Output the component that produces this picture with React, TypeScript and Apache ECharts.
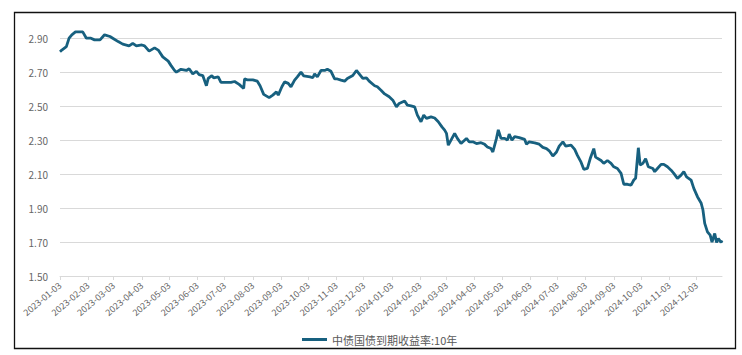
import React, { useEffect, useRef } from "react";
import * as echarts from "echarts";

const seriesName = "中债国债到期收益率:10年";

const tickLabels = [
  "2023-01-03", "2023-02-03", "2023-03-03", "2023-04-03", "2023-05-03", "2023-06-03",
  "2023-07-03", "2023-08-03", "2023-09-03", "2023-10-03", "2023-11-03", "2023-12-03",
  "2024-01-03", "2024-02-03", "2024-03-03", "2024-04-03", "2024-05-03", "2024-06-03",
  "2024-07-03", "2024-08-03", "2024-09-03", "2024-10-03", "2024-11-03", "2024-12-03",
];

const dates = [
  "2023-01-03", "2023-01-05", "2023-01-10", "2023-01-13", "2023-01-16", "2023-01-20", "2023-01-28", "2023-02-01",
  "2023-02-06", "2023-02-10", "2023-02-16", "2023-02-21", "2023-02-27", "2023-03-02", "2023-03-08", "2023-03-13",
  "2023-03-20", "2023-03-24", "2023-03-28", "2023-04-03", "2023-04-06", "2023-04-11", "2023-04-17", "2023-04-21",
  "2023-04-26", "2023-05-02", "2023-05-05", "2023-05-09", "2023-05-11", "2023-05-16", "2023-05-22", "2023-05-25",
  "2023-05-29", "2023-06-02", "2023-06-05", "2023-06-09", "2023-06-13", "2023-06-15", "2023-06-19", "2023-06-21",
  "2023-06-26", "2023-06-29", "2023-07-05", "2023-07-10", "2023-07-14", "2023-07-19", "2023-07-24", "2023-07-25",
  "2023-07-28", "2023-08-03", "2023-08-08", "2023-08-11", "2023-08-15", "2023-08-21", "2023-08-25", "2023-08-29",
  "2023-08-31", "2023-09-04", "2023-09-07", "2023-09-11", "2023-09-14", "2023-09-18", "2023-09-21", "2023-09-25",
  "2023-09-28", "2023-10-05", "2023-10-08", "2023-10-10", "2023-10-13", "2023-10-17", "2023-10-21", "2023-10-24",
  "2023-10-28", "2023-11-01", "2023-11-04", "2023-11-08", "2023-11-12", "2023-11-15", "2023-11-21", "2023-11-25",
  "2023-11-28", "2023-12-02", "2023-12-06", "2023-12-09", "2023-12-15", "2023-12-18", "2023-12-22", "2023-12-26",
  "2023-12-31",
  "2024-01-04", "2024-01-08", "2024-01-11", "2024-01-17", "2024-01-20", "2024-01-24", "2024-01-28", "2024-01-31",
  "2024-02-04", "2024-02-07", "2024-02-10", "2024-02-15", "2024-02-19", "2024-02-23", "2024-02-27", "2024-03-01",
  "2024-03-03", "2024-03-05", "2024-03-08", "2024-03-12", "2024-03-15", "2024-03-19", "2024-03-25", "2024-03-28",
  "2024-04-01", "2024-04-05", "2024-04-10", "2024-04-14", "2024-04-17", "2024-04-21", "2024-04-23", "2024-04-27",
  "2024-04-29", "2024-05-02", "2024-05-06", "2024-05-09", "2024-05-11", "2024-05-14", "2024-05-17", "2024-05-22",
  "2024-05-28", "2024-05-30", "2024-06-02", "2024-06-08", "2024-06-13", "2024-06-17", "2024-06-21", "2024-06-24",
  "2024-06-28", "2024-07-02", "2024-07-05", "2024-07-09", "2024-07-12", "2024-07-18", "2024-07-22", "2024-07-25",
  "2024-07-29", "2024-08-01", "2024-08-05", "2024-08-08", "2024-08-12", "2024-08-14", "2024-08-20", "2024-08-23",
  "2024-08-27", "2024-08-31", "2024-09-03", "2024-09-07", "2024-09-11", "2024-09-14", "2024-09-18", "2024-09-22",
  "2024-09-25", "2024-09-27", "2024-09-30", "2024-10-02", "2024-10-05", "2024-10-08", "2024-10-11", "2024-10-16",
  "2024-10-18", "2024-10-21", "2024-10-25", "2024-10-28", "2024-11-01", "2024-11-05", "2024-11-08", "2024-11-12",
  "2024-11-16", "2024-11-19", "2024-11-22", "2024-11-27", "2024-11-30", "2024-12-04", "2024-12-08", "2024-12-10",
  "2024-12-12", "2024-12-15", "2024-12-18", "2024-12-20", "2024-12-23", "2024-12-25", "2024-12-27", "2024-12-30",
  "2024-12-31",
];

const values = [
  2.82, 2.83, 2.85, 2.9, 2.92, 2.937, 2.937, 2.9,
  2.9, 2.89, 2.89, 2.92, 2.91, 2.9, 2.88, 2.865,
  2.855, 2.87, 2.855, 2.86, 2.855, 2.824, 2.843, 2.83,
  2.79, 2.765, 2.74, 2.71, 2.7, 2.717, 2.71, 2.72,
  2.69, 2.705, 2.686, 2.68, 2.62, 2.663, 2.68, 2.667,
  2.672, 2.64, 2.64, 2.64, 2.645, 2.628, 2.604, 2.66,
  2.655, 2.655, 2.647, 2.62, 2.569, 2.55, 2.565, 2.584,
  2.565, 2.614, 2.643, 2.634, 2.614, 2.653, 2.672, 2.7,
  2.678, 2.672, 2.667, 2.69, 2.672, 2.71, 2.71, 2.717,
  2.705, 2.66, 2.66, 2.653, 2.647, 2.663, 2.68, 2.71,
  2.69, 2.663, 2.667, 2.647, 2.62, 2.614, 2.594, 2.572,
  2.555,
  2.535, 2.496, 2.516, 2.53, 2.506, 2.502, 2.496, 2.447,
  2.408, 2.447, 2.428, 2.437, 2.43, 2.408, 2.378, 2.359,
  2.34, 2.27, 2.3, 2.34, 2.31, 2.28, 2.31, 2.29,
  2.29, 2.28, 2.285, 2.275, 2.26, 2.25, 2.23, 2.31,
  2.36, 2.31, 2.31, 2.3, 2.335, 2.3, 2.32, 2.315,
  2.304, 2.276, 2.29, 2.284, 2.276, 2.257, 2.25, 2.237,
  2.206, 2.23, 2.265, 2.29, 2.265, 2.27, 2.245, 2.21,
  2.17, 2.128, 2.133, 2.19, 2.25, 2.2, 2.18, 2.163,
  2.18, 2.163, 2.143, 2.133, 2.104, 2.04, 2.04, 2.035,
  2.065, 2.075, 2.255, 2.153, 2.163, 2.19, 2.143, 2.133,
  2.114, 2.133, 2.157, 2.157, 2.143, 2.123, 2.104, 2.075,
  2.094, 2.114, 2.084, 2.065, 2.016, 1.967, 1.93, 1.89,
  1.81, 1.76, 1.74, 1.7, 1.75, 1.698, 1.72, 1.698,
  1.71,
];

const xMin = "2023-01-03";
const xMax = "2024-12-31";

const pad = (n: number) => (n < 10 ? "0" + n : "" + n);

export default function App() {
  const ref = useRef<HTMLDivElement>(null);

  useEffect(() => {
    if (!ref.current) return;
    const chart = echarts.init(ref.current, null, { renderer: "svg" });
    const parse = (s: string) => echarts.number.parseDate(s).getTime();
    const n = Math.min(dates.length, values.length);
    const data: [number, number][] = [];
    for (let i = 0; i < n; i++) data.push([parse(dates[i]), values[i]]);
    const tickVals = tickLabels.map(parse);
    const fmtDate = (v: number) => {
      const d = new Date(Number(v));
      return d.getFullYear() + "-" + pad(d.getMonth() + 1) + "-" + pad(d.getDate());
    };
    const font = "'Noto Sans CJK SC', 'Noto Sans', sans-serif";

    chart.setOption({
      animation: false,
      backgroundColor: "#ffffff",
      textStyle: { fontFamily: font },
      grid: { left: 60, right: 20, top: 28, bottom: 79, containLabel: false },
      xAxis: {
        type: "value",
        min: parse(xMin),
        max: parse(xMax),
        axisLine: { show: true, lineStyle: { color: "#d9d9d9", width: 1 } },
        axisTick: { show: true, customValues: tickVals, length: 4, lineStyle: { color: "#d9d9d9" } },
        axisLabel: {
          customValues: tickVals,
          rotate: 40,
          fontSize: 9,
          color: "#666666",
          margin: 8,
          fontFamily: font,
          formatter: (v: number) => fmtDate(v),
        },
        splitLine: { show: false },
      },
      yAxis: {
        type: "value",
        min: 1.5,
        max: 2.96,
        interval: 0.2,
        axisLine: { show: false },
        axisTick: { show: false },
        axisLabel: {
          show: true,
          showMaxLabel: false,
          color: "#666666",
          fontSize: 10,
          margin: 12,
          fontFamily: font,
          formatter: (v: any) => Number(v).toFixed(2),
        },
        splitLine: { show: true, showMaxLine: false, lineStyle: { color: "#d9d9d9", width: 1 } },
      },
      legend: {
        show: true,
        top: 329,
        left: 297,
        itemWidth: 25,
        itemHeight: 10,
        data: [{ name: seriesName, icon: "path://M0,0 L25,0 L25,3 L0,3 Z" }],
        textStyle: { color: "#595959", fontSize: 11, fontFamily: font },
      },
      graphic: [
        {
          type: "rect",
          shape: { x: 14.5, y: 12.5, width: 721, height: 336 },
          style: { fill: "none", stroke: "#111111", lineWidth: 1.3 },
          silent: true,
        },
      ],
      series: [
        {
          name: seriesName,
          type: "line",
          data,
          showSymbol: false,
          symbol: "none",
          lineStyle: { color: "#17607f", width: 2.8 },
          itemStyle: { color: "#17607f" },
        },
      ],
    });

    return () => chart.dispose();
  }, []);

  return (
    <div
      ref={ref}
      style={{ position: "fixed", left: 0, top: 0, width: 742, height: 355, background: "#fff" }}
    />
  );
}
